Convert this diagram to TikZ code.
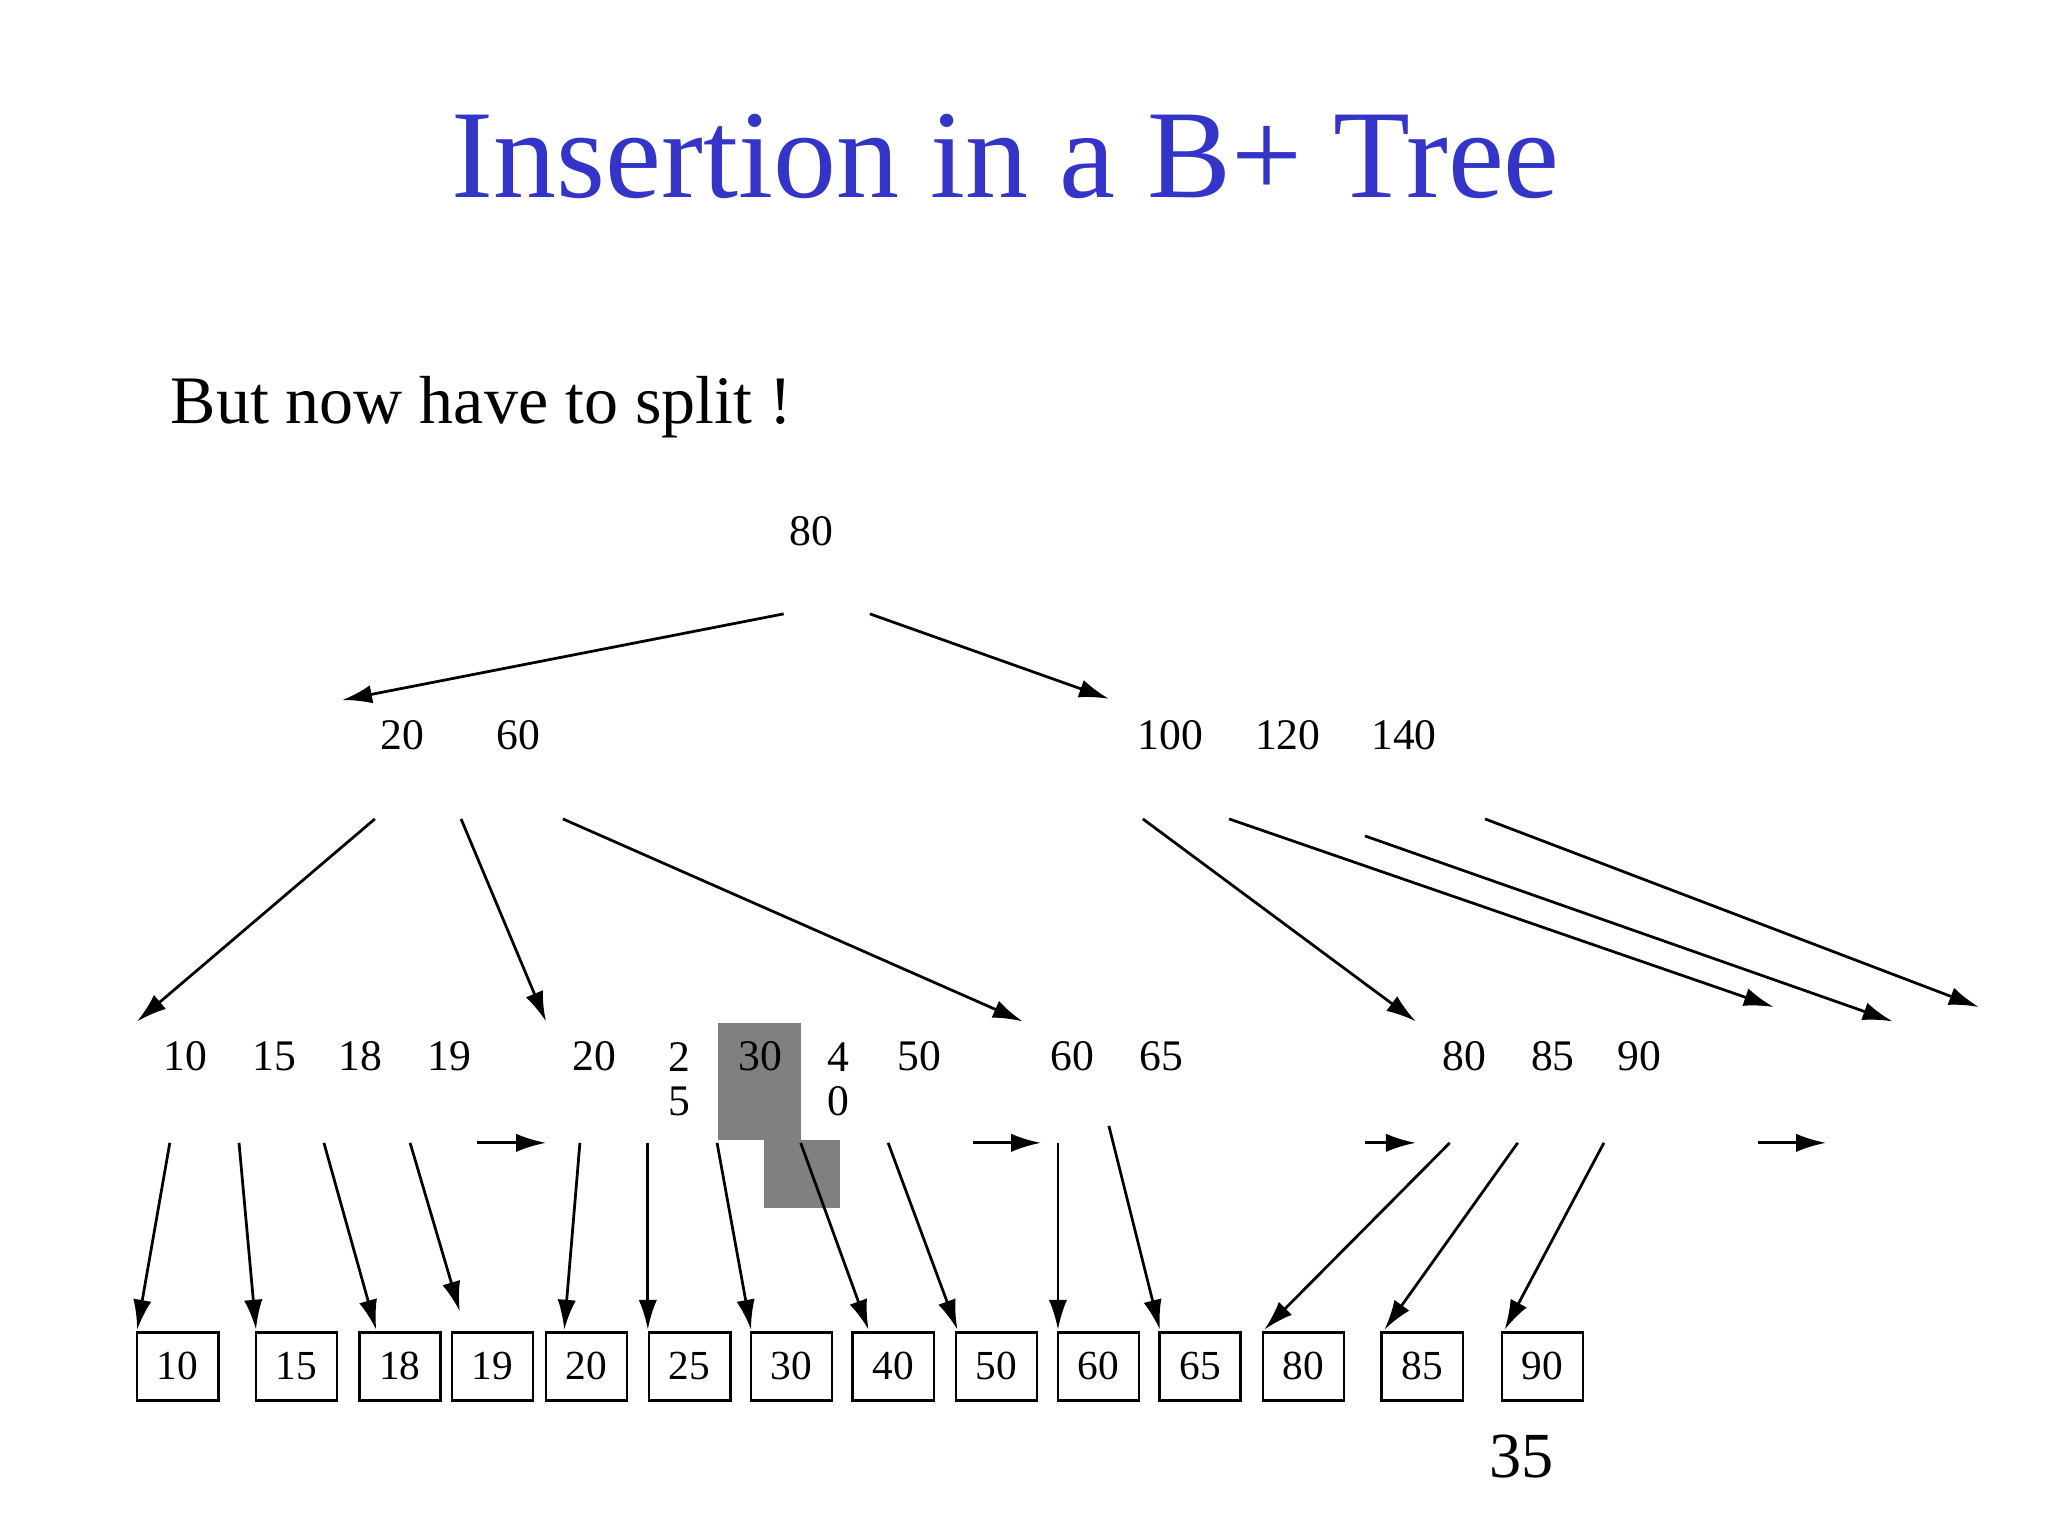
\documentclass[tikz,border=0pt]{standalone}
\usepackage{fontspec}
\setmainfont{Liberation Serif}
\definecolor{titleblue}{RGB}{52,52,200}
\definecolor{hl}{RGB}{128,128,128}
\usetikzlibrary{arrows.meta}
\tikzset{
  arr/.style={-{Latex[length=6.5pt,width=4pt]},line width=0.6pt},
  leaf/.style={draw,line width=0.6pt,minimum width=0.62cm,minimum height=0.52cm,inner sep=0pt,font=\fontsize{9}{10}\selectfont},
  key/.style={inner sep=0pt,font=\fontsize{9.5}{11}\selectfont},
}
\begin{document}
\begin{tikzpicture}[x=0.01cm,y=-0.01cm]
\useasboundingbox[fill=white] (0,0) rectangle (1568,1176);
\node[text=titleblue,font=\fontsize{27.4}{30}\selectfont] (title) at (770,120) {Insertion in a B+ Tree};
\node[anchor=west,inner sep=0pt,font=\fontsize{14.8}{17}\selectfont] (sub) at (130,312) {But now have to split !};
\node[font=\fontsize{14}{16}\selectfont] (pg) at (1165,1115) {35};
% highlight
\fill[hl] (550,783) rectangle (613,873);
\fill[hl] (585,873) rectangle (643,925);
% keys
\node[key] (r) at (621,407) {80};
\foreach \t/\x in {20/308,60/397,100/896,120/986,140/1075} \node[key] at (\x,563) {\t};
\foreach \t/\x in {10/142,15/210,18/276,19/344,20/455,2/520,30/582,4/642,50/704,60/821,65/889,80/1121,85/1189,90/1255} \node[key] at (\x,809) {\t};
\node[key] at (520,843) {5};
\node[key] at (642,843) {0};
% leaves
\foreach \t/\x in {10/136,15/227,18/306,19/377,20/449,25/528,30/606,40/684,50/763,60/841,65/919,80/998,85/1089,90/1181}
  \node[leaf] (l\x) at (\x,1046) {\t};
% arrows
\foreach \a/\b/\c/\d in {600/470/262/536, 666/470/849/535,
 287/627/105/782, 353/627/418/782, 431/627/783/782,
 875/627/1084/782, 941/627/1358/771, 1045/640/1449/782, 1137/627/1515/771,
 365/875/418/875, 745/875/797/875, 1045/875/1084/875, 1346/875/1398/875,
 130/875/105/1018, 183/875/196/1018, 248/875/288/1018, 314/875/352/1004,
 444/875/432/1018, 496/875/496/1018, 549/875/575/1018, 613/875/665/1018,
 680/875/733/1018, 810/875/810/1018, 849/862/888/1018, 1110/875/968/1018,
 1162/875/1060/1018, 1228/875/1152/1018}
  \draw[arr] (\a,\b) -- (\c,\d);
\end{tikzpicture}
\end{document}
